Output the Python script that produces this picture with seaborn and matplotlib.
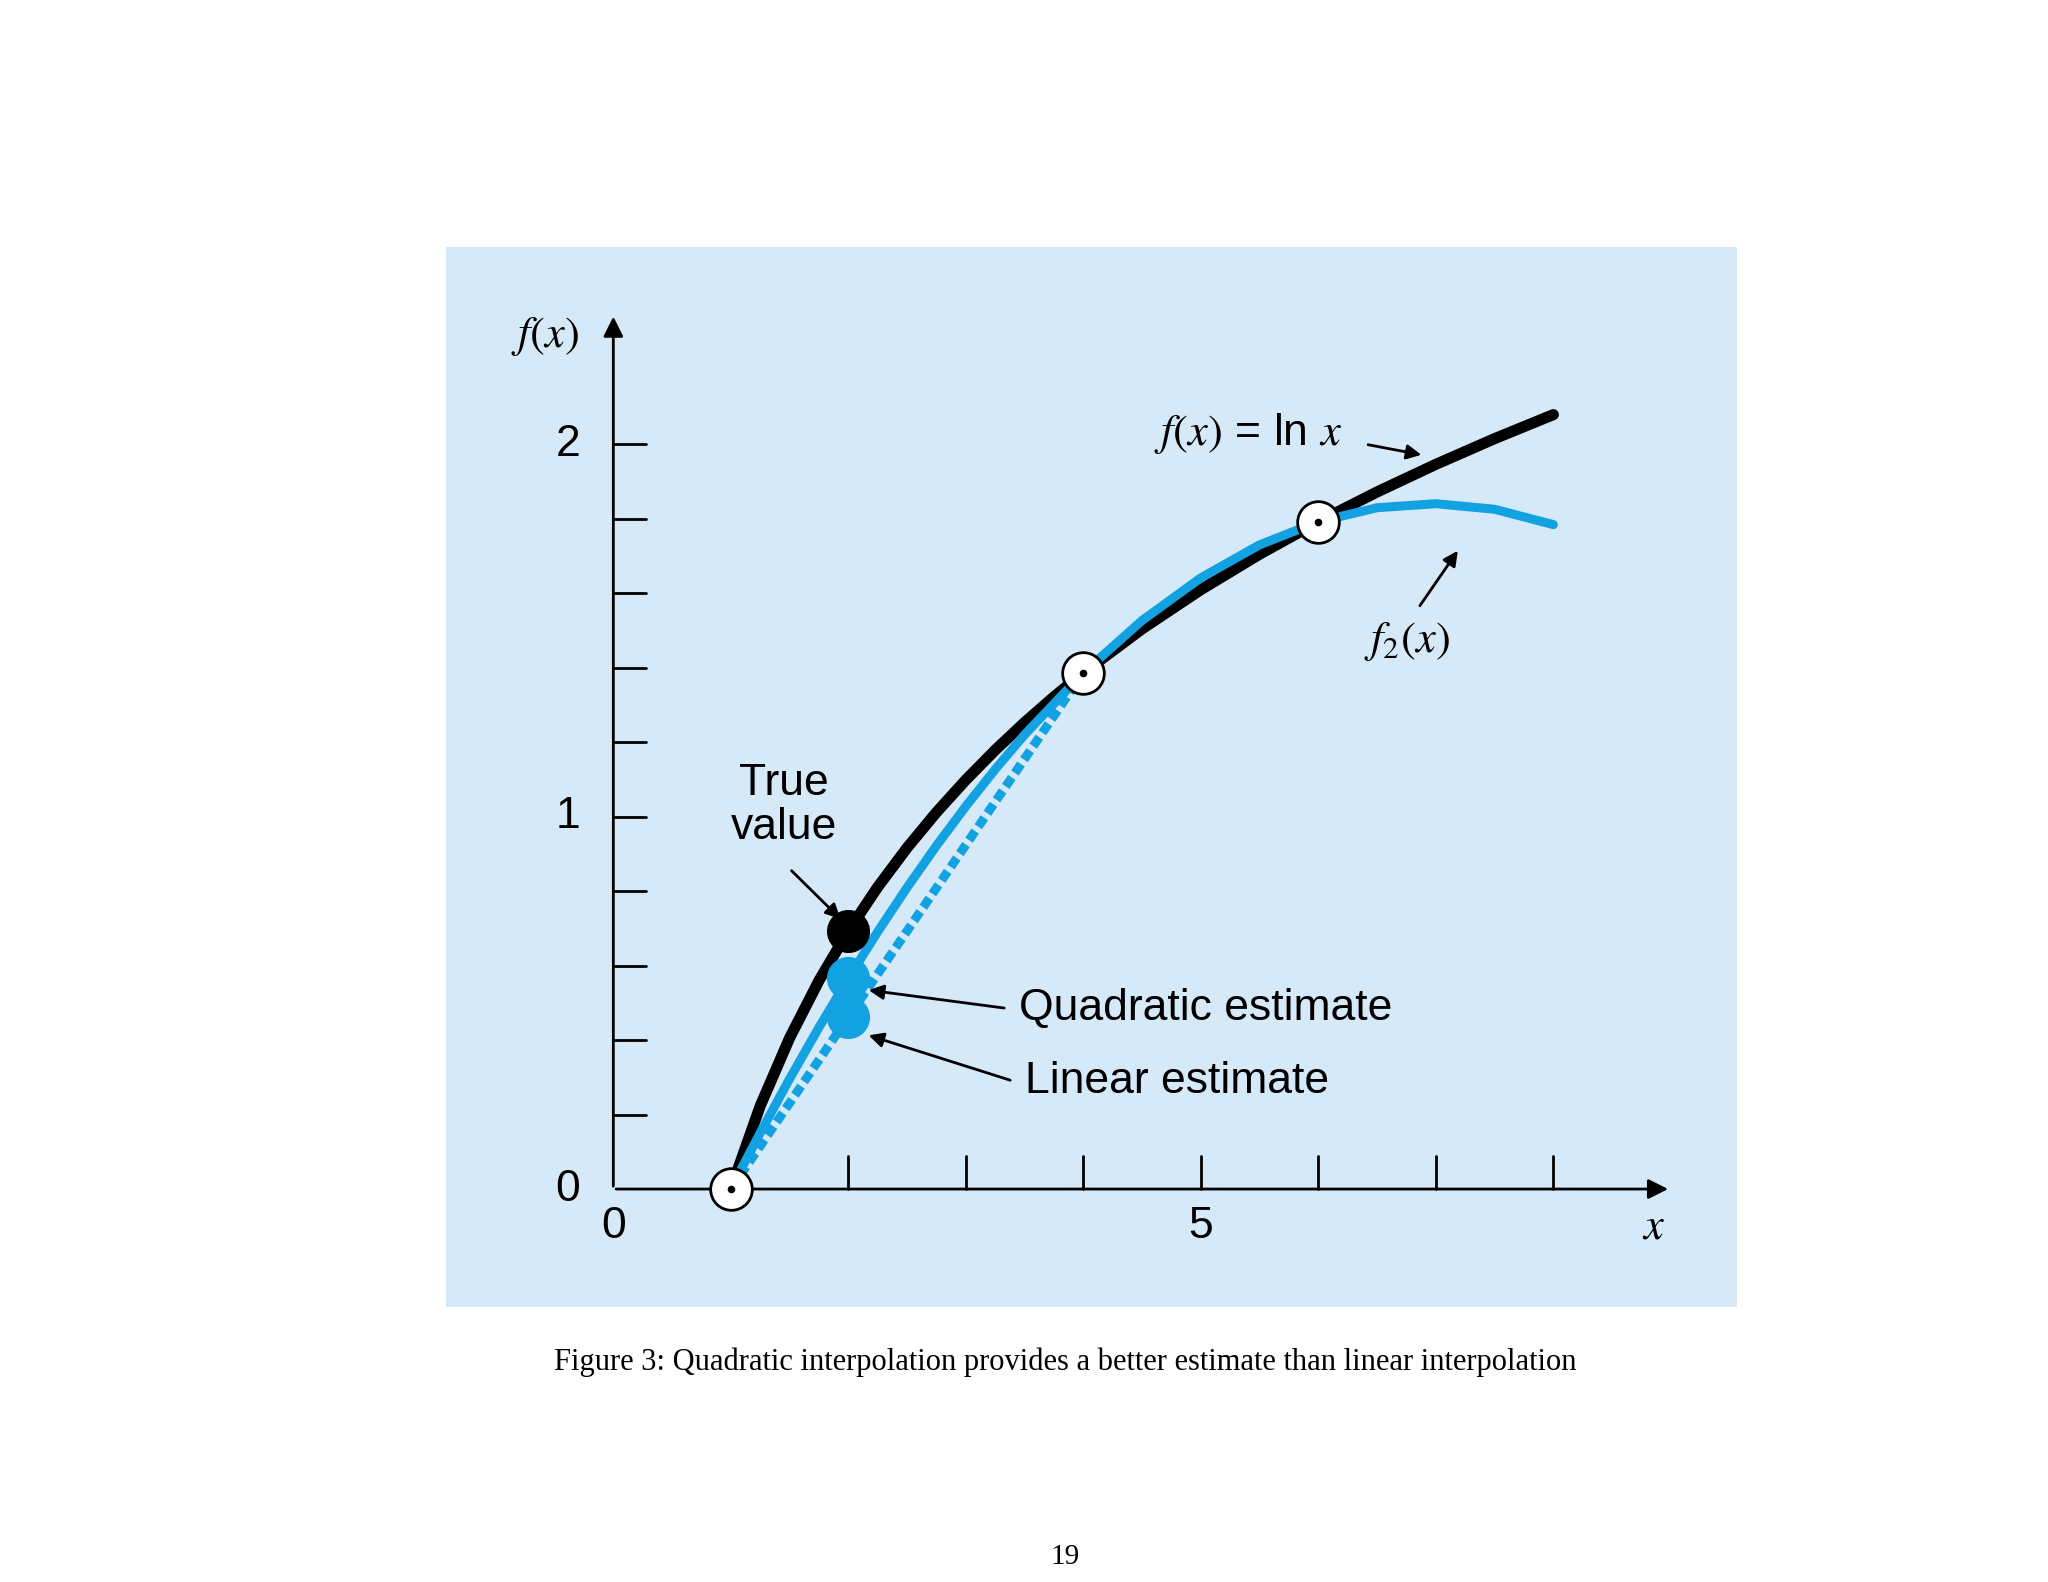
import seaborn as sns
import matplotlib.pyplot as plt
from matplotlib.lines import Line2D

# sampled values of f(x) = ln x
x_true = [1.0, 1.25, 1.5, 1.75, 2.0, 2.25, 2.5, 2.75, 3.0, 3.25, 3.5, 3.75, 4.0, 4.5, 5.0,
          5.5, 6.0, 6.5, 7.0, 7.5, 8.0]
y_true = [0.0, 0.2231, 0.4055, 0.5596, 0.6931, 0.8109, 0.9163, 1.0116, 1.0986, 1.1787, 1.2528,
          1.3218, 1.3863, 1.5041, 1.6094, 1.7047, 1.7918, 1.8718, 1.9459, 2.0149, 2.0794]
# quadratic interpolant f2(x) through x = 1, 4, 6
x_quad = [1.0, 1.25, 1.5, 1.75, 2.0, 2.25, 2.5, 2.75, 3.0, 3.25, 3.5, 4.0, 4.5, 5.0, 5.5,
          6.0, 6.5, 7.0, 7.5, 8.0]
y_quad = [0.0, 0.1511, 0.2958, 0.4340, 0.5657, 0.6909, 0.8097, 0.9220, 1.0278, 1.1271, 1.2200,
          1.3863, 1.5267, 1.6412, 1.7298, 1.7918, 1.8294, 1.8402, 1.8252, 1.7840]
# linear interpolant between x = 1 and 4
x_lin = [1.0, 4.0]
y_lin = [0.0, 1.3863]
x_nodes = [1.0, 4.0, 6.0]
y_nodes = [0.0, 1.3863, 1.7918]
true_val = (2.0, 0.6931)
quad_est = (2.0, 0.5658)
lin_est = (2.0, 0.4621)

sns.set_theme(style="white")
plt.rcParams["mathtext.fontset"] = "stix"
plt.rcParams["text.color"] = "black"
blue = "#12a2e2"
sans = ["Liberation Sans", "DejaVu Sans"]
serif = ["Liberation Serif", "DejaVu Serif"]

fig = plt.figure(figsize=(20.48, 15.82), dpi=100)
ax = fig.add_axes([0.218, 0.174, 0.630, 0.670])
ax.set_facecolor("#d5e9f8")
ax.set_xlim(-1.42, 9.56)
ax.set_ylim(-0.316, 2.53)
for s in ax.spines.values():
    s.set_visible(False)
ax.set_xticks([])
ax.set_yticks([])

sns.lineplot(x=x_true, y=y_true, ax=ax, color="black", lw=8, zorder=3)
sns.lineplot(x=x_quad, y=y_quad, ax=ax, color=blue, lw=6.5, zorder=4)
sns.lineplot(x=x_lin, y=y_lin, ax=ax, color=blue, lw=6.5, linestyle=(0, (1.2, 0.6)), zorder=2)

# axes with arrows
ax.annotate("", xy=(9.0, 0), xytext=(0, 0),
            arrowprops=dict(arrowstyle="-|>", color="black", lw=2, mutation_scale=30))
ax.annotate("", xy=(0, 2.35), xytext=(0, 0),
            arrowprops=dict(arrowstyle="-|>", color="black", lw=2, mutation_scale=30))
for k in range(1, 11):
    ax.add_line(Line2D([0, 0.28], [0.2 * k] * 2, color="black", lw=2))
for k in range(2, 9):
    ax.add_line(Line2D([k, k], [0, 0.088], color="black", lw=2))

ax.scatter(x_nodes, y_nodes, s=900, facecolor="white", edgecolor="black", lw=2, zorder=6)
ax.scatter(x_nodes, y_nodes, s=20, color="black", zorder=7)
ax.scatter(*true_val, s=900, color="black", zorder=6)
ax.scatter(*quad_est, s=900, color=blue, zorder=6)
ax.scatter(*lin_est, s=900, color=blue, zorder=6)

fs = 32
for v in [0, 1, 2]:
    ax.text(-0.28, v, str(v), ha="right", va="center", fontsize=fs, family=sans)
ax.text(0, -0.1, "0", ha="center", va="center", fontsize=fs, family=sans)
ax.text(5, -0.1, "5", ha="center", va="center", fontsize=fs, family=sans)
ax.text(8.85, -0.1, "$x$", ha="center", va="center", fontsize=fs)
ax.text(-0.58, 2.29, "$f(x)$", ha="center", va="center", fontsize=fs)

arr = dict(arrowstyle="-|>", color="black", lw=2, mutation_scale=22)
ax.annotate("", xy=(6.9, 1.97), xytext=(6.4, 2.0), arrowprops=arr)
ax.annotate("", xy=(7.2, 1.72), xytext=(6.85, 1.56), arrowprops=arr)
ax.annotate("", xy=(1.95, 0.72), xytext=(1.5, 0.86), arrowprops=arr)
ax.annotate("", xy=(2.15, 0.535), xytext=(3.35, 0.485), arrowprops=arr)
ax.annotate("", xy=(2.15, 0.415), xytext=(3.4, 0.29), arrowprops=arr)

ax.text(4.6, 2.03, "$f(x)$ = ln $x$", ha="left", va="center", fontsize=fs, family=sans)
ax.text(6.75, 1.47, "$f_2(x)$", ha="center", va="center", fontsize=fs)
ax.text(1.45, 1.03, "True\nvalue", ha="center", va="center", fontsize=fs, family=sans, linespacing=1.1)
ax.text(3.45, 0.485, "Quadratic estimate", ha="left", va="center", fontsize=fs, family=sans)
ax.text(3.5, 0.29, "Linear estimate", ha="left", va="center", fontsize=fs, family=sans)

fig.text(0.52, 0.139, "Figure 3: Quadratic interpolation provides a better estimate than linear interpolation",
         ha="center", va="center", fontsize=22, family=serif)
fig.text(0.52, 0.016, "19", ha="center", va="center", fontsize=21, family=serif)

fig.savefig("out.png", dpi=100, facecolor="white")
